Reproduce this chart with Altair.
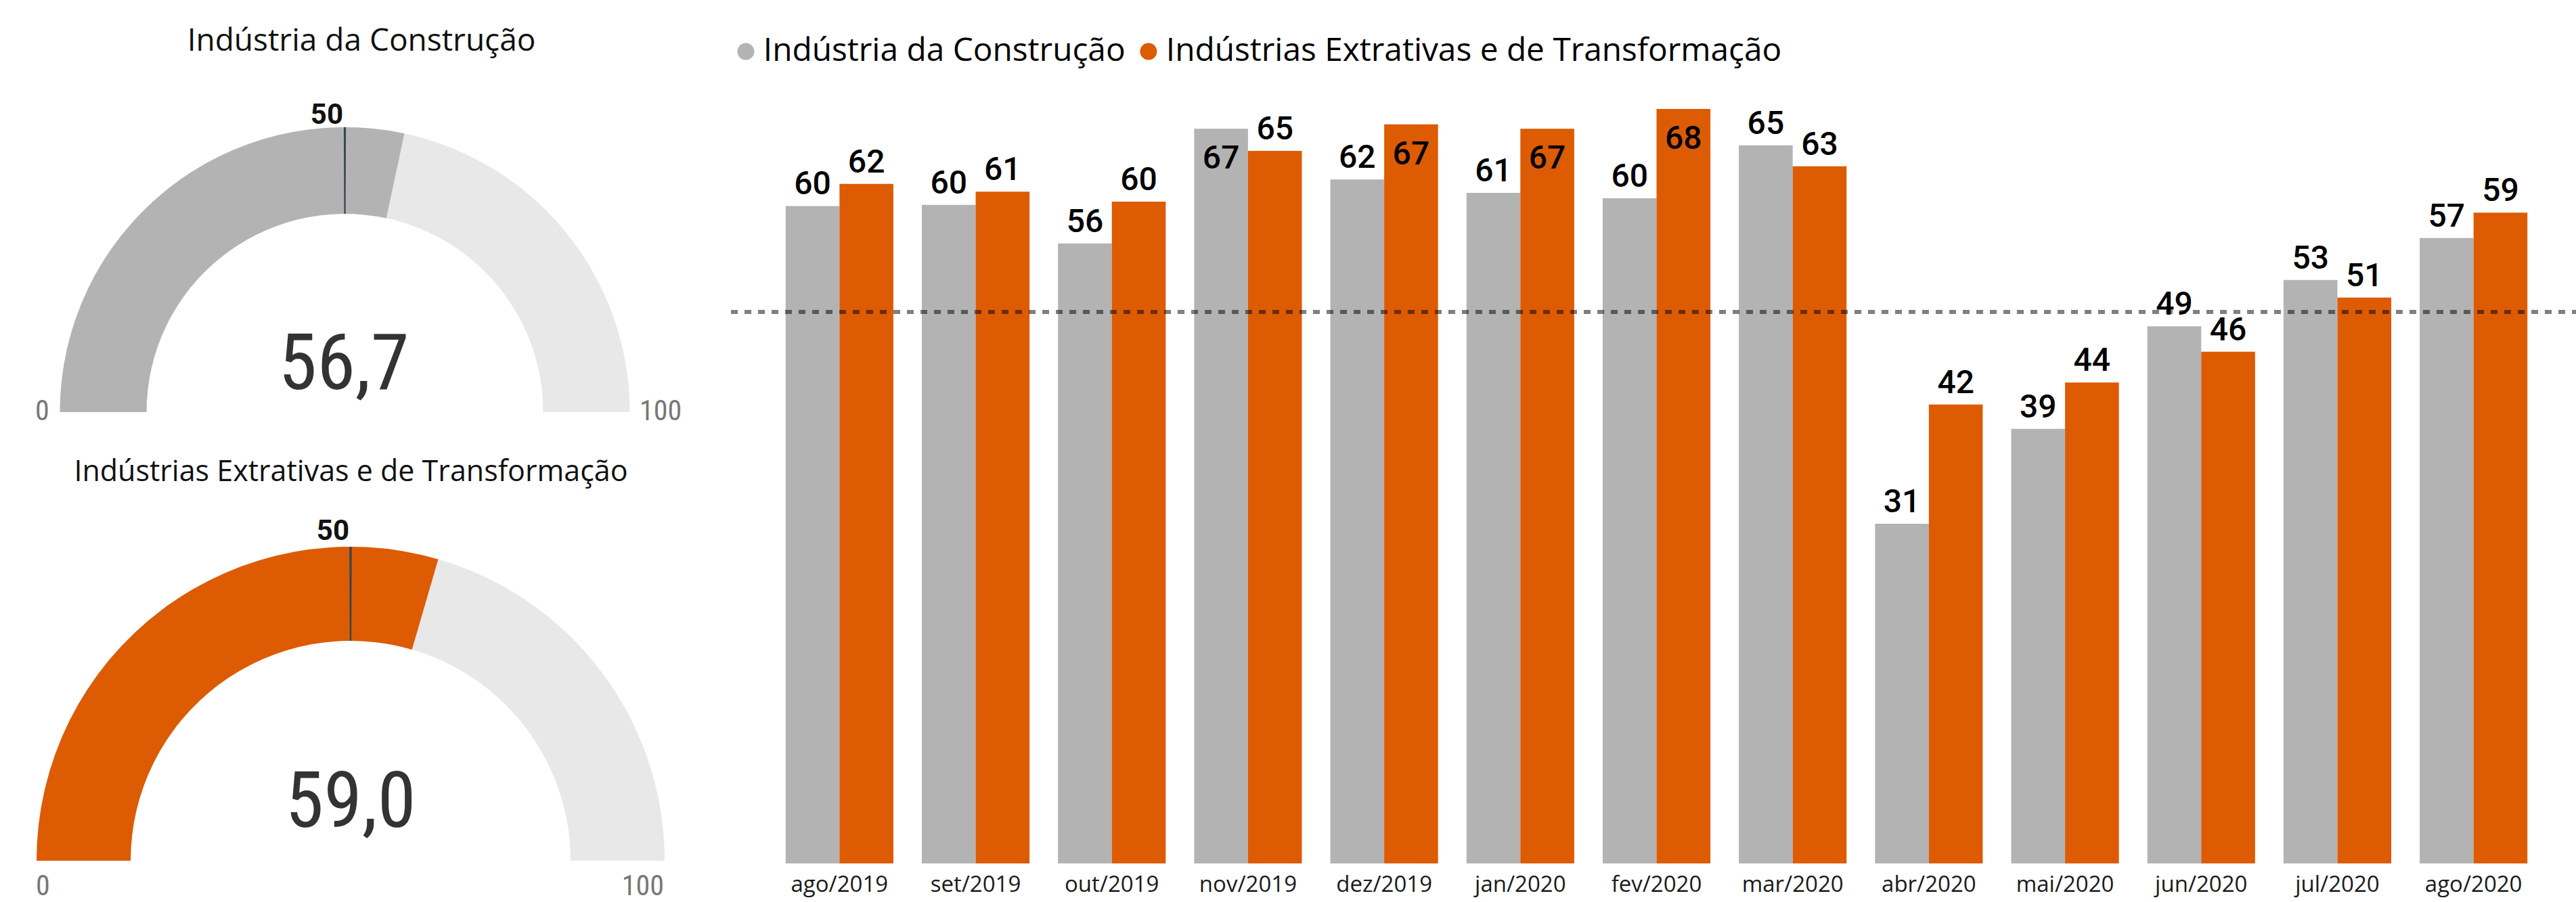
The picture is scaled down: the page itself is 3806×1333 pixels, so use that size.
import altair as alt
import pandas as pd

# ---------------- data ----------------
months = ["ago/2019", "set/2019", "out/2019", "nov/2019", "dez/2019", "jan/2020",
          "fev/2020", "mar/2020", "abr/2020", "mai/2020", "jun/2020", "jul/2020", "ago/2020"]
series_names = ["Indústria da Construção", "Indústrias Extrativas e de Transformação"]
construcao = [59.6, 59.7, 56.2, 66.6, 62.0, 60.8, 60.3, 65.1, 30.8, 39.4, 48.7, 52.9, 56.7]
extrativas = [61.6, 60.9, 60.0, 64.6, 67.0, 66.6, 68.4, 63.2, 41.6, 43.6, 46.4, 51.3, 59.0]
reference_line = [50]

gauge_titles = ["Indústria da Construção", "Indústrias Extrativas e de Transformação"]
gauge_values = [56.7, 59.0]
gauge_min = 0
gauge_max = 100
gauge_target = 50

# ---------------- styles ----------------
GREY = "#B3B3B3"
ORANGE = "#DD5B03"
LIGHT = "#E8E8E8"
TEXT_FONT = "Open Sans"
NUM_FONT = "Roboto"
NARROW_FONT = "Liberation Sans Narrow, Roboto Condensed, DejaVu Sans Condensed, sans-serif"

PLOT_BOTTOM = 1276
PLOT_TOP = 161
TARGET_HALF_WIDTH = 0.12

bars = pd.DataFrame({
    "month": months * 2,
    "series": [series_names[0]] * len(months) + [series_names[1]] * len(months),
    "value": construcao + extrativas,
})

x_enc = alt.X("month:N", sort=months,
              scale=alt.Scale(domain=months, range=[1080, 3815],
                              paddingInner=0.209, paddingOuter=0.4015),
              axis=alt.Axis(title=None, domain=False, ticks=False, grid=False,
                            labelFont=TEXT_FONT, labelFontSize=33, labelColor="#1a1a1a",
                            labelPadding=15, labelAngle=0))
xoff_enc = alt.XOffset("series:N", sort=series_names,
                       scale=alt.Scale(domain=series_names))
y_enc = alt.Y("value:Q",
              scale=alt.Scale(domain=[0, max(construcao + extrativas)],
                              range=[PLOT_BOTTOM, PLOT_TOP], nice=False, zero=True),
              axis=None)

base = alt.Chart(bars)

bar_layer = base.mark_bar().encode(
    x=x_enc, xOffset=xoff_enc, y=y_enc,
    color=alt.Color("series:N",
                    scale=alt.Scale(domain=series_names, range=[GREY, ORANGE]),
                    legend=alt.Legend(orient="none", legendX=1078, legendY=52,
                                      direction="horizontal", title=None,
                                      symbolType="circle", symbolSize=625,
                                      symbolStrokeWidth=0, labelFont=TEXT_FONT,
                                      labelFontSize=47.8, labelColor="#000000",
                                      labelOffset=2, columnPadding=10,
                                      labelLimit=3000)),
)

ref_layer = alt.Chart(pd.DataFrame({"ref": reference_line})).mark_rule(
    color="#000000", opacity=0.5, strokeWidth=6, strokeDash=[10, 10]
).encode(y=alt.Y("ref:Q", axis=None), x=alt.value(1080), x2=alt.value(3806))

label_out = base.transform_filter("datum.value <= 65.5").mark_text(
    font=NUM_FONT, fontSize=48, fontWeight=500, color="#000000",
    baseline="alphabetic", align="center", dy=-17
).encode(x=x_enc, xOffset=xoff_enc, y=y_enc, text=alt.Text("value:Q", format=".0f"))

label_in = base.transform_filter("datum.value > 65.5").mark_text(
    font=NUM_FONT, fontSize=48, fontWeight=500, color="#000000",
    baseline="alphabetic", align="center", dy=59
).encode(x=x_enc, xOffset=xoff_enc, y=y_enc, text=alt.Text("value:Q", format=".0f"))

# ---------------- gauges ----------------
theta_scale = alt.Scale(domain=[gauge_min, gauge_max], range=[4.712389, 7.853982])

geom = [
    dict(cx=509.5, cy=609, ro=421, ri=293, color=GREY,
         tx=534, ty=75, tsize=46,
         lx=507, ly=183,
         vx=508, vy=575,
         minx=52, maxx=945, maxalign="left", mmy=621),
    dict(cx=518, cy=1272, ro=464, ri=325, color=ORANGE,
         tx=518.5, ty=711, tsize=43,
         lx=516, ly=798,
         vx=518, vy=1222,
         minx=53, maxx=981, maxalign="right", mmy=1323),
]

gauge_layers = []
for i, g in enumerate(geom):
    v = gauge_values[i]
    segs = [
        (pd.DataFrame({"part": [gauge_max - gauge_min], "o": [1.0], "k": [0]}), LIGHT),
        (pd.DataFrame({"part": [v - gauge_min], "o": [1.0], "k": [0]}), g["color"]),
        (pd.DataFrame({"part": [gauge_target - TARGET_HALF_WIDTH - gauge_min,
                                2 * TARGET_HALF_WIDTH],
                       "o": [0.0, 1.0], "k": [0, 1]}), "#394650"),
    ]
    for df, col in segs:
        gauge_layers.append(
            alt.Chart(df).mark_arc(radius=g["ro"], radius2=g["ri"], color=col).encode(
                theta=alt.Theta("part:Q", scale=theta_scale),
                order=alt.Order("k:Q"),
                opacity=alt.Opacity("o:Q", scale=None),
                x=alt.value(g["cx"]), y=alt.value(g["cy"]),
            )
        )
    gauge_layers.append(
        alt.Chart(pd.DataFrame({"t": [gauge_titles[i]]})).mark_text(
            font=TEXT_FONT, fontSize=g["tsize"], color="#111111",
            align="center", baseline="alphabetic"
        ).encode(text="t:N", x=alt.value(g["tx"]), y=alt.value(g["ty"]))
    )
    gauge_layers.append(
        alt.Chart(pd.DataFrame({"t": [str(gauge_target)]})).mark_text(
            font=NUM_FONT, fontSize=42, fontWeight="bold", color="#111111",
            align="right", baseline="alphabetic"
        ).encode(text="t:N", x=alt.value(g["lx"]), y=alt.value(g["ly"]))
    )
    gauge_layers.append(
        alt.Chart(pd.DataFrame({"t": [f"{v:.1f}".replace(".", ",")]})).mark_text(
            font=NARROW_FONT, fontSize=115, color="#333333",
            align="center", baseline="alphabetic"
        ).encode(text="t:N", x=alt.value(g["vx"]), y=alt.value(g["vy"]))
    )
    gauge_layers.append(
        alt.Chart(pd.DataFrame({"t": [str(gauge_min)]})).mark_text(
            font=NARROW_FONT, fontSize=42, color="#777777",
            align="left", baseline="alphabetic"
        ).encode(text="t:N", x=alt.value(g["minx"]), y=alt.value(g["mmy"]))
    )
    gauge_layers.append(
        alt.Chart(pd.DataFrame({"t": [str(gauge_max)]})).mark_text(
            font=NARROW_FONT, fontSize=42, color="#777777",
            align=g["maxalign"], baseline="alphabetic"
        ).encode(text="t:N", x=alt.value(g["maxx"]), y=alt.value(g["mmy"]))
    )

chart = alt.layer(
    bar_layer, ref_layer, label_out, label_in, *gauge_layers
).properties(
    width=3806, height=PLOT_BOTTOM,
    autosize=alt.AutoSizeParams(type="none"),
    padding={"left": 0, "top": 0, "right": 0, "bottom": 1333 - PLOT_BOTTOM},
    background="white",
).configure_view(stroke=None)

chart.save("out.html", embed_options={"renderer": "svg", "actions": False})
